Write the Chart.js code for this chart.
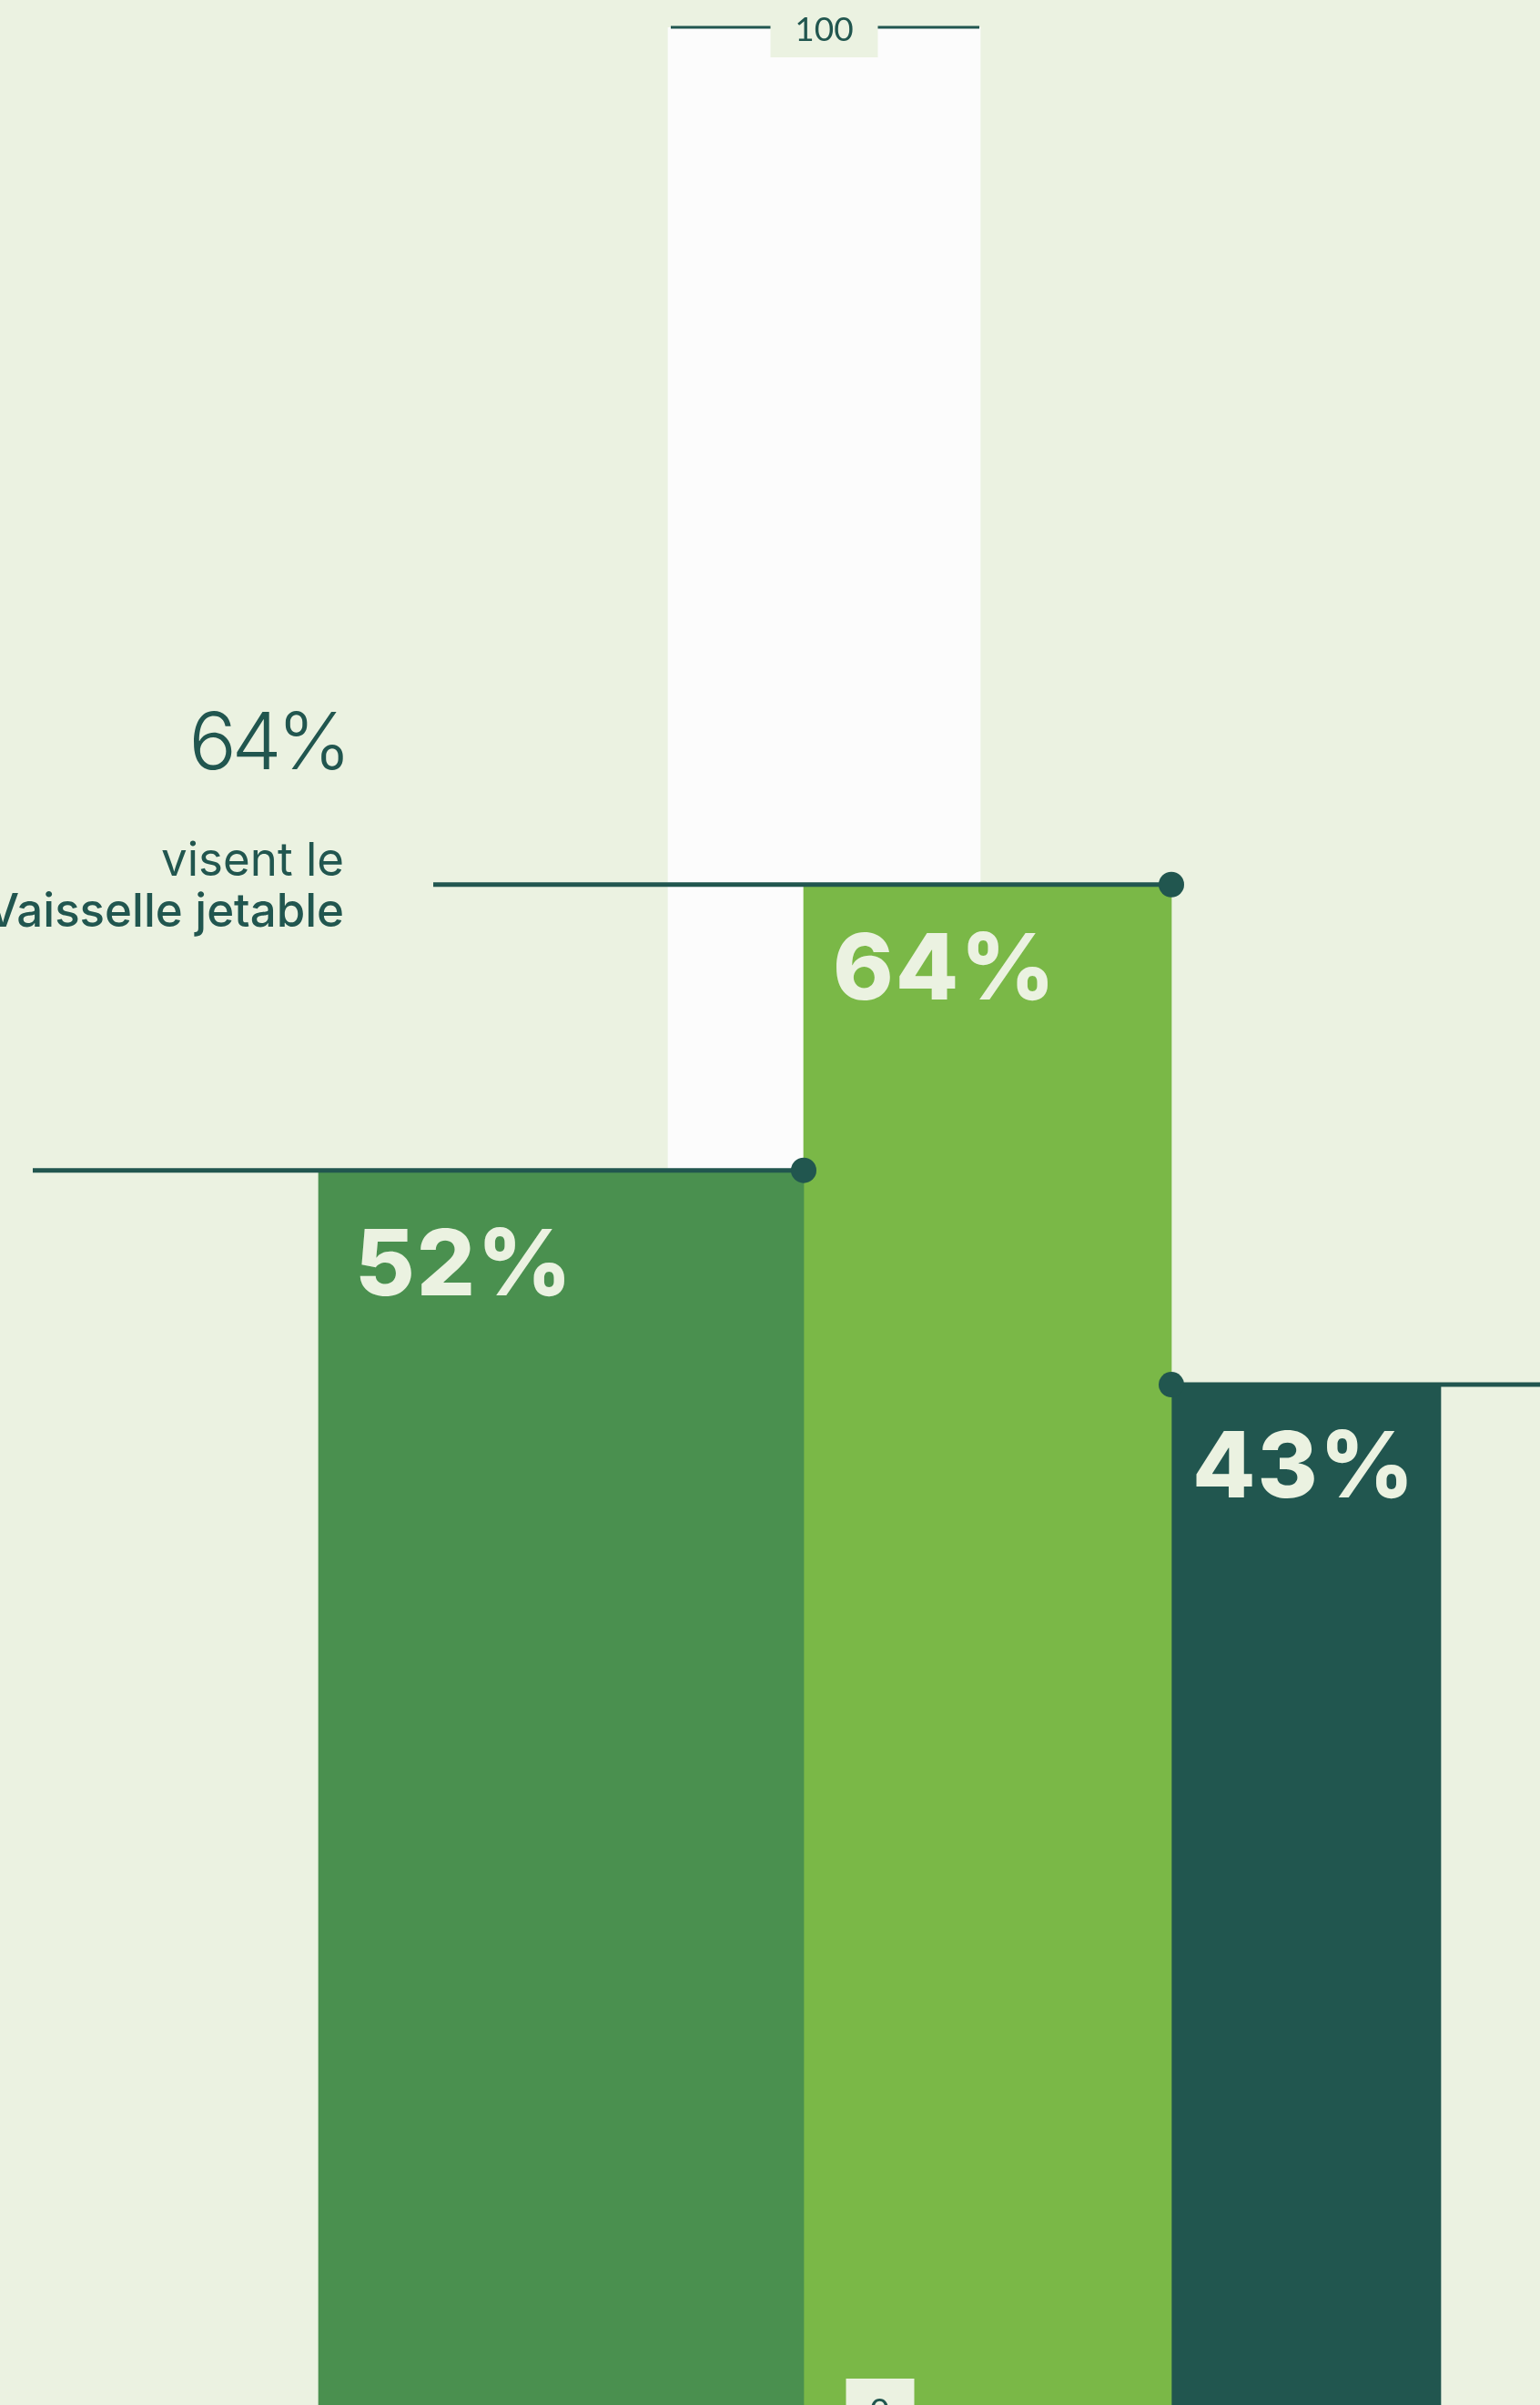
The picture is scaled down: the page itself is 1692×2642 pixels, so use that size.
<!DOCTYPE html>
<html>
<head>
<meta charset="utf-8">
<script src="https://cdn.jsdelivr.net/npm/chart.js@4.4.1/dist/chart.umd.min.js"></script>
<style>
  html, body { margin: 0; padding: 0; background: #ebf2e1; overflow: hidden; }
  canvas { display: block; }
</style>
</head>
<body>
<canvas id="chart" width="1692" height="2700"></canvas>
<script>
/* ---------- DATA ---------- */
const categories = ["", "Vaisselle jetable", ""];
const values = [52, 64, 43];
const fullValue = 100;
const axisTicks = [0, 100];
const calloutValue = "64%";
const calloutLines = ["visent le", "Vaisselle jetable"];

/* ---------- LAYOUT / STYLE ---------- */
const BG = "#ebf2e1";
const INK = "#21564f";
const barColors = ["#4a904f", "#7ab847", "#21564f"];
const LAYOUT = {
  centers: [616.5, 1085, 1435],
  widths: [533, 404, 296],
  backCenter: 905.5,
  backWidth: 343,
  // where each reference line starts (null = runs from bar to the right edge)
  lineFrom: [36, 476, null],
  labelPad: [[40, 137], [32, 126], [23, 124]]
};

const datasets = [{
  data: [{ x: LAYOUT.backCenter, y: fullValue }],
  backgroundColor: "#fcfcfc",
  barThickness: LAYOUT.backWidth,
  stack: "g",
  order: 2
}];
values.forEach((v, i) => {
  datasets.push({
    label: categories[i],
    data: [{ x: LAYOUT.centers[i], y: v }],
    backgroundColor: barColors[i],
    barThickness: LAYOUT.widths[i],
    stack: "g",
    order: 1
  });
});

/* ---------- OVERLAY PLUGIN ---------- */
const overlay = {
  id: "overlay",
  afterDatasetsDraw(chart) {
    const ctx = chart.ctx;
    const y = chart.scales.y;
    const W = chart.width;
    ctx.save();

    // top (100) and bottom (0) ticks
    const yTop = y.getPixelForValue(axisTicks[1]);
    const back = chart.getDatasetMeta(0).data[0];
    ctx.strokeStyle = INK;
    ctx.lineWidth = 3;
    ctx.beginPath();
    ctx.moveTo(back.x - back.width / 2 + 3, yTop);
    ctx.lineTo(back.x + back.width / 2 - 1, yTop);
    ctx.stroke();
    ctx.fillStyle = BG;
    ctx.fillRect(back.x - 59, yTop - 33, 118, 66);
    ctx.fillStyle = INK;
    ctx.font = "37px Lato";
    ctx.textAlign = "center";
    ctx.textBaseline = "alphabetic";
    ctx.fillText(String(axisTicks[1]), back.x, yTop + 15);

    const yZero = y.getPixelForValue(axisTicks[0]);
    const first = chart.getDatasetMeta(1).data[0];
    const last = chart.getDatasetMeta(values.length).data[0];
    const groupMid = ((first.x - first.width / 2) + (last.x + last.width / 2)) / 2;
    ctx.fillStyle = BG;
    ctx.fillRect(groupMid - 37, yZero - 33, 75, 66);
    ctx.fillStyle = INK;
    ctx.fillText(String(axisTicks[0]), groupMid, yZero + 15);

    // reference lines with dots, and value labels in bars
    values.forEach((v, i) => {
      const bar = chart.getDatasetMeta(i + 1).data[0];
      const left = bar.x - bar.width / 2;
      const right = bar.x + bar.width / 2;
      const py = y.getPixelForValue(v);
      let x0, x1, dot;
      if (LAYOUT.lineFrom[i] === null) {
        x0 = left; x1 = W; dot = left;
      } else {
        x0 = LAYOUT.lineFrom[i]; x1 = right; dot = right;
      }
      ctx.strokeStyle = INK;
      ctx.lineWidth = 5;
      ctx.beginPath();
      ctx.moveTo(x0, py);
      ctx.lineTo(x1, py);
      ctx.stroke();
      ctx.fillStyle = INK;
      ctx.beginPath();
      ctx.arc(dot, py, 14, 0, Math.PI * 2);
      ctx.fill();

      ctx.fillStyle = BG;
      ctx.font = "800 101px Inter";
      ctx.letterSpacing = "2px";
      ctx.textAlign = "left";
      ctx.fillText(v + "%", left + LAYOUT.labelPad[i][0], py + LAYOUT.labelPad[i][1]);
      ctx.letterSpacing = "0px";
    });

    // callout text
    ctx.fillStyle = INK;
    ctx.textAlign = "right";
    ctx.font = "300 87px Inter";
    ctx.letterSpacing = "-5px";
    ctx.fillText(calloutValue, 381, 845);
    ctx.letterSpacing = "0px";
    ctx.font = "400 51px Inter";
    ctx.fillText(calloutLines[0], 378, 962);
    ctx.font = "500 51px Inter";
    ctx.fillText(calloutLines[1], 378, 1018);

    ctx.restore();
  }
};

/* ---------- CHART ---------- */
new Chart(document.getElementById("chart"), {
  type: "bar",
  data: { datasets },
  options: {
    responsive: false,
    animation: false,
    events: [],
    layout: { padding: { top: 30, bottom: 54, left: 0, right: 0 } },
    plugins: { legend: { display: false }, tooltip: { enabled: false } },
    scales: {
      x: { type: "linear", min: 0, max: 1692, offset: false, display: false },
      y: { min: 0, max: 100, stacked: false, display: false }
    },
    elements: { bar: { borderWidth: 0 } }
  },
  plugins: [overlay]
});
</script>
</body>
</html>
